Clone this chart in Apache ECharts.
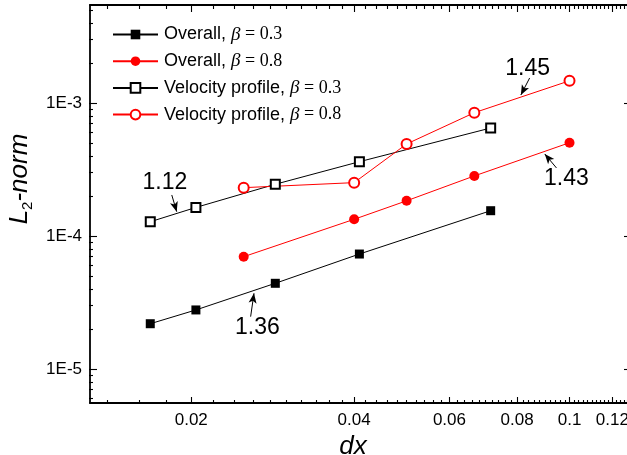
<!DOCTYPE html>
<html><head><meta charset="utf-8">
<script src="https://cdn.jsdelivr.net/npm/echarts@6/dist/echarts.min.js"></script>
<style>html,body{margin:0;padding:0;background:#fff}#c{width:627px;height:455px}</style>
</head><body><div id="c"></div>
<script>
// ---- data ----
const seriesNames = ['Overall, β = 0.3', 'Overall, β = 0.8', 'Velocity profile, β = 0.3', 'Velocity profile, β = 0.8'];
const dx03 = [0.0168, 0.0204, 0.0286, 0.0409, 0.0715];
const dx08 = [0.025, 0.040, 0.050, 0.0667, 0.100];
const overall03 = [2.19e-5, 2.78e-5, 4.41e-5, 7.32e-5, 1.55e-4];
const overall08 = [6.99e-5, 1.336e-4, 1.84e-4, 2.83e-4, 5.03e-4];
const velocity03 = [1.28e-4, 1.64e-4, 2.45e-4, 3.62e-4, 6.49e-4];
const velocity08 = [2.31e-4, 2.52e-4, 4.92e-4, 8.46e-4, 1.47e-3];
const xTickValues = [0.02, 0.04, 0.06, 0.08, 0.1, 0.12];
const xTickLabels = ['0.02', '0.04', '0.06', '0.08', '0.1', '0.12'];
const yTickValues = [1e-5, 1e-4, 1e-3];
const yTickLabels = ['1E-5', '1E-4', '1E-3'];
const slopeLabels = ['1.12', '1.45', '1.43', '1.36'];

// ---- axis ranges & minor ticks ----
const X_MIN = 0.0130, X_MAX = 0.1288;
const Y_MIN = 5.55e-6, Y_MAX = 5.46e-3;
const xMinor = [];
for (let i = 7; i <= 64; i++) { if (i % 10 !== 0) xMinor.push(+(i * 0.002).toFixed(3)); }
const yMinor = [];
for (let e = -6; e <= -3; e++) for (let m = 2; m <= 9; m++) {
  const v = parseFloat((m * Math.pow(10, e)).toPrecision(3));
  if (v > Y_MIN && v < Y_MAX) yMinor.push(v);
}

const SANS = '"Liberation Sans", Arial, sans-serif';
const SERIF = '"Liberation Serif", "Times New Roman", serif';
const AXIS_W = 1.8;

function pickLabel(vals, labels, v) {
  let best = 0, bd = Infinity;
  vals.forEach((t, i) => { const d = Math.abs(Math.log10(t) - Math.log10(v)); if (d < bd) { bd = d; best = i; } });
  return labels[best];
}

// grids: 0 main plot; others are thin helper grids whose outward ticks point into the plot
const gridDefs = [
  { left: 90, right: -2, top: 5, bottom: 52 },   // 0 main
  { left: 90, right: -2, top: 403, height: 1 },  // 1 bottom major ticks
  { left: 90, right: -2, top: 403, height: 1 },  // 2 bottom minor ticks
  { left: 90, right: -2, top: 4, height: 1 },    // 3 top major ticks
  { left: 90, right: -2, top: 4, height: 1 },    // 4 top minor ticks
  { left: 89, width: 1, top: 5, bottom: 52 },    // 5 left major ticks
  { left: 89, width: 1, top: 5, bottom: 52 },    // 6 left minor ticks
  { left: 629, width: 1, top: 5, bottom: 52 }    // 7 right major ticks
].map(g => Object.assign({ outerBoundsMode: 'none', containLabel: false }, g));

const hidden = { splitLine: { show: false }, minorTick: { show: false }, minorSplitLine: { show: false } };
const tickLine = { color: '#000', width: 1.1 };

function tickX(gi, pos, ticks, len) {
  return Object.assign({
    type: 'log', logBase: 10, gridIndex: gi, position: pos, min: X_MIN, max: X_MAX,
    axisLine: { show: false },
    axisTick: { show: true, inside: false, length: len, customValues: ticks, lineStyle: tickLine },
    axisLabel: { show: false }
  }, hidden);
}
function tickY(gi, pos, ticks, len) {
  return Object.assign({
    type: 'log', logBase: 10, gridIndex: gi, position: pos, min: Y_MIN, max: Y_MAX,
    axisLine: { show: false },
    axisTick: { show: true, inside: false, length: len, customValues: ticks, lineStyle: tickLine },
    axisLabel: { show: false }
  }, hidden);
}
const dummy = gi => ({ type: 'value', gridIndex: gi, show: false });

const xAxes = [
  Object.assign({
    type: 'log', logBase: 10, gridIndex: 0, position: 'bottom', min: X_MIN, max: X_MAX,
    axisLine: { show: true, onZero: false, lineStyle: { color: '#000', width: AXIS_W } },
    axisTick: { show: false },
    axisLabel: {
      show: true, customValues: xTickValues, margin: 9,
      formatter: v => pickLabel(xTickValues, xTickLabels, v),
      fontFamily: SANS, fontSize: 17, color: '#000'
    },
    name: 'dx', nameLocation: 'middle', nameGap: 22,
    nameTextStyle: { fontFamily: SANS, fontStyle: 'italic', fontSize: 26, color: '#000', padding: [0, 13, 0, 0] }
  }, hidden),
  Object.assign({
    type: 'log', logBase: 10, gridIndex: 0, position: 'top', min: X_MIN, max: X_MAX,
    axisLine: { show: true, onZero: false, lineStyle: { color: '#000', width: AXIS_W } },
    axisTick: { show: false }, axisLabel: { show: false }
  }, hidden),
  tickX(1, 'top', xTickValues, 7),
  tickX(2, 'top', xMinor, 4),
  tickX(3, 'bottom', xTickValues, 7),
  tickX(4, 'bottom', xMinor, 4),
  dummy(5), dummy(6), dummy(7)
];

const yAxes = [
  Object.assign({
    type: 'log', logBase: 10, gridIndex: 0, position: 'left', min: Y_MIN, max: Y_MAX,
    axisLine: { show: true, onZero: false, lineStyle: { color: '#000', width: AXIS_W } },
    axisTick: { show: false },
    axisLabel: {
      show: true, customValues: yTickValues, margin: 8,
      formatter: v => pickLabel(yTickValues, yTickLabels, v),
      fontFamily: SANS, fontSize: 17, color: '#000'
    },
    name: '{i|L}{s|2}{i|-norm}', nameLocation: 'middle', nameGap: 44, nameRotate: 90,
    nameTextStyle: {
      color: '#000', padding: [0, 0, 0, 50],
      rich: {
        i: { fontFamily: SANS, fontStyle: 'italic', fontSize: 26, color: '#000', lineHeight: 30 },
        s: { fontFamily: SANS, fontSize: 15, color: '#000', verticalAlign: 'bottom', lineHeight: 30, padding: [11, 0, 0, 0] }
      }
    }
  }, hidden),
  Object.assign({
    type: 'log', logBase: 10, gridIndex: 0, position: 'right', min: Y_MIN, max: Y_MAX,
    axisLine: { show: true, onZero: false, lineStyle: { color: '#000', width: AXIS_W } },
    axisTick: { show: false }, axisLabel: { show: false }
  }, hidden),
  dummy(1), dummy(2), dummy(3), dummy(4),
  tickY(5, 'right', yTickValues, 8),
  tickY(6, 'right', yMinor, 4),
  tickY(7, 'left', yTickValues, 5)
];

const blackLine = { color: '#000', width: 1 };
const redLine = { color: '#ff0000', width: 1 };
function pairs(xs, ys) { return xs.map((x, i) => [x, ys[i]]); }

const textLabel = (txt) => ({
  show: true, position: 'inside', formatter: txt,
  fontFamily: SANS, fontSize: 23, color: '#000'
});
const arrowLine = (p0, p1) => [{ coord: p0 }, { coord: p1 }];
const arrowCfg = (p0, p1) => ({
  silent: true, symbol: ['none', 'arrow'], symbolSize: [6, 10],
  label: { show: false }, lineStyle: { color: '#000', width: 1, type: 'solid' },
  data: [arrowLine(p0, p1)]
});
const textCfg = (coord, txt) => ({
  symbol: 'circle', symbolSize: 0, silent: true,
  data: [{ coord: coord, label: textLabel(txt) }]
});

const option = {
  animation: false,
  backgroundColor: '#fff',
  grid: gridDefs,
  legend: {
    data: seriesNames, left: 112, top: 25, orient: 'vertical', padding: 0,
    itemWidth: 45, itemHeight: 12, itemGap: 7.7,
    formatter: name => {
      const k = name.indexOf('β');
      return '{t|' + name.slice(0, k) + '}{g|β}{m|' + name.slice(k + 1) + '}';
    },
    textStyle: {
      padding: [0, 0, 0, 1],
      rich: {
        t: { fontFamily: SANS, fontSize: 18, color: '#000', lineHeight: 20 },
        g: { fontFamily: SERIF, fontStyle: 'italic', fontSize: 19, color: '#000', lineHeight: 20 },
        m: { fontFamily: SERIF, fontSize: 18, color: '#000', lineHeight: 20 }
      }
    }
  },
  xAxis: xAxes,
  yAxis: yAxes,
  series: [
    {
      name: seriesNames[0], type: 'line', xAxisIndex: 0, yAxisIndex: 0,
      data: pairs(dx03, overall03), symbol: 'rect', symbolSize: 9,
      lineStyle: blackLine, itemStyle: { color: '#000' }, z: 3,
      markPoint: textCfg([0.0265, 2.05e-5], slopeLabels[3]),
      markLine: arrowCfg([0.02575, 2.475e-5], [0.02612, 3.71e-5])
    },
    {
      name: seriesNames[1], type: 'line', xAxisIndex: 0, yAxisIndex: 0,
      data: pairs(dx08, overall08), symbol: 'circle', symbolSize: 10,
      lineStyle: redLine, itemStyle: { color: '#ff0000' }, z: 3,
      markPoint: textCfg([0.0987, 2.68e-4], slopeLabels[2]),
      markLine: arrowCfg([0.0946, 3.25e-4], [0.090, 4.14e-4])
    },
    {
      name: seriesNames[2], type: 'line', xAxisIndex: 0, yAxisIndex: 0,
      data: pairs(dx03, velocity03), symbol: 'emptyRect', symbolSize: 9,
      lineStyle: blackLine, itemStyle: { color: '#000', borderWidth: 1.2 }, z: 3,
      markPoint: textCfg([0.01788, 2.51e-4], slopeLabels[0]),
      markLine: arrowCfg([0.01841, 2.035e-4], [0.0188, 1.524e-4])
    },
    {
      name: seriesNames[3], type: 'line', xAxisIndex: 0, yAxisIndex: 0,
      data: pairs(dx08, velocity08), symbol: 'emptyCircle', symbolSize: 10,
      lineStyle: redLine, itemStyle: { color: '#ff0000', borderWidth: 1.2 }, z: 3,
      markPoint: textCfg([0.0837, 1.813e-3], slopeLabels[1]),
      markLine: arrowCfg([0.0844, 1.543e-3], [0.0813, 1.149e-3])
    }
  ]
};

const chart = echarts.init(document.getElementById('c'), null, { renderer: 'canvas' });
chart.setOption(option);
</script>
</body></html>
